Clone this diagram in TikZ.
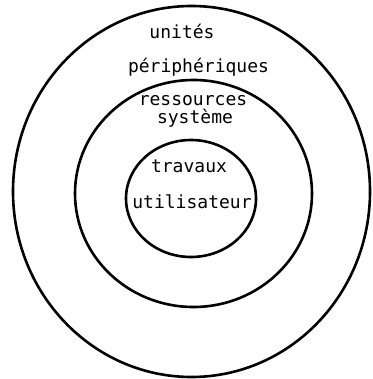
\documentclass[tikz,border=0pt]{standalone}
\usepackage{fontspec}
\setmonofont{DejaVu Sans Mono}
\begin{document}
\begin{tikzpicture}[x=1pt,y=-1pt,
    ring/.style={line width=2.6pt},
    lbl/.style={font=\ttfamily\fontsize{18}{16}\selectfont, anchor=base, inner sep=0pt}]
        \useasboundingbox (0,0) rectangle (372,379);
        % the three layers
        \draw[ring] (191.5,191.5) ellipse [x radius=178.5, y radius=185.5];
        \draw[ring] (193.5,193.5) ellipse [x radius=118.5, y radius=113.5];
        \draw[ring] (191,198.5) ellipse [x radius=65, y radius=58.5];
        
        % labels
        \node[lbl] (unites) at (182,39) {unités};
        \node[lbl] (periph) at (198.5,73) {périphériques};
        \node[lbl] (ressources) at (193,106) {ressources};
        \node[lbl] (systeme) at (195,124) {système};
        \node[lbl] (travaux) at (189,172) {travaux};
        \node[lbl] (utilisateur) at (192,208) {utilisateur};
    \end{tikzpicture}
\end{document}
